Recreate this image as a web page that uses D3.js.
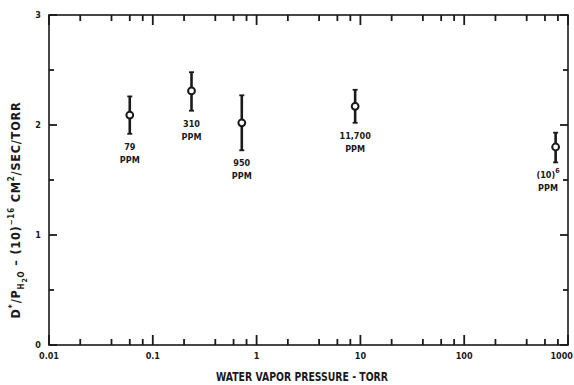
<!DOCTYPE html>
<html>
<head>
<meta charset="utf-8">
<script src="https://cdn.jsdelivr.net/npm/d3@7"></script>
<style>
  html, body { margin: 0; padding: 0; background: #fff; }
  svg text { font-family: "DejaVu Sans Condensed", "Liberation Sans Narrow", "Liberation Sans", sans-serif; font-weight: bold; fill: #1a1a1a; }
</style>
</head>
<body>
<svg id="canvas"></svg>
<script>
// ===== Data =====
const pressures = [0.06, 0.236, 0.72, 8.9, 760];        // torr
const dValues   = [2.09, 2.31, 2.02, 2.17, 1.80];
const errLow    = [1.92, 2.13, 1.77, 2.02, 1.66];
const errHigh   = [2.26, 2.48, 2.27, 2.32, 1.93];
const ppmLabels = ["79", "310", "950", "11,700", "(10)^6"];

const xMajorTicks = [0.01, 0.1, 1, 10, 100, 1000];
const xTickLabels = ["0.01", "0.1", "1", "10", "100", "1000"];
const xMinorSteps = [2, 4, 6, 8];
const yMajorTicks = [0, 1, 2, 3];
const yMinorTicks = [0.5, 1.5, 2.5];

// ===== Basis SVG =====
const W = 574, H = 385;
const margin = { top: 15, right: 6, bottom: 40, left: 49 };
const svg = d3.select("#canvas").attr("width", W).attr("height", H);
const ink = "#1a1a1a";

const x = d3.scaleLog().domain([0.01, 1000]).range([margin.left, W - margin.right]);
const y = d3.scaleLinear().domain([0, 3]).range([H - margin.bottom, margin.top]);

const bottomY = H - margin.bottom, topY = margin.top;
const leftX = margin.left, rightX = W - margin.right;

const xMinor = [];
xMajorTicks.slice(0, -1).forEach(d => xMinorSteps.forEach(m => xMinor.push(d * m)));

// frame
svg.append("rect")
  .attr("x", leftX).attr("y", topY)
  .attr("width", rightX - leftX).attr("height", bottomY - topY)
  .attr("fill", "none").attr("stroke", ink).attr("stroke-width", 1.6);

// ===== Ticks (inward, on all four sides) =====
const ticks = svg.append("g").attr("stroke", ink).attr("stroke-width", 1.8);

function xTicks(vals, len) {
  [[bottomY, -1], [topY, 1]].forEach(([y0, dir]) => {
    ticks.append("g").selectAll("line").data(vals).enter().append("line")
      .attr("x1", d => x(d)).attr("x2", d => x(d))
      .attr("y1", y0).attr("y2", y0 + dir * len);
  });
}
function yTicks(vals, len) {
  [[leftX, 1], [rightX, -1]].forEach(([x0, dir]) => {
    ticks.append("g").selectAll("line").data(vals).enter().append("line")
      .attr("y1", d => y(d)).attr("y2", d => y(d))
      .attr("x1", x0).attr("x2", x0 + dir * len);
  });
}
xTicks(xMajorTicks, 10);
xTicks(xMinor, 6);
yTicks(yMajorTicks, 8);
yTicks(yMinorTicks, 5);

// tick labels
svg.append("g").selectAll("text").data(xMajorTicks).enter().append("text")
  .attr("x", (d, i) => i === xMajorTicks.length - 1 ? W - 1 : x(d))
  .attr("y", bottomY + 14)
  .attr("text-anchor", (d, i) => i === xMajorTicks.length - 1 ? "end" : "middle")
  .attr("font-size", 9)
  .text((d, i) => xTickLabels[i]);

svg.append("g").selectAll("text").data(yMajorTicks).enter().append("text")
  .attr("x", leftX - 8).attr("y", d => y(d) + 3)
  .attr("text-anchor", "end").attr("font-size", 9)
  .text(d => d);

// ===== Points =====
const pts = pressures.map((p, i) => ({ p, v: dValues[i], lo: errLow[i], hi: errHigh[i], label: ppmLabels[i] }));

const pt = svg.selectAll(".pt").data(pts).enter().append("g").attr("class", "pt");

pt.append("line")
  .attr("x1", d => x(d.p)).attr("x2", d => x(d.p))
  .attr("y1", d => y(d.lo)).attr("y2", d => y(d.hi))
  .attr("stroke", ink).attr("stroke-width", 2.6);
["lo", "hi"].forEach(k => {
  pt.append("line")
    .attr("x1", d => x(d.p) - 2.5).attr("x2", d => x(d.p) + 2.5)
    .attr("y1", d => y(d[k])).attr("y2", d => y(d[k]))
    .attr("stroke", ink).attr("stroke-width", 1.8);
});
pt.append("circle")
  .attr("cx", d => x(d.p)).attr("cy", d => y(d.v)).attr("r", 3.4)
  .attr("fill", "#fff").attr("stroke", ink).attr("stroke-width", 2);

// labels
pt.each(function (d) {
  const g = d3.select(this);
  const lx = Math.min(x(d.p), rightX - 20);
  const t = g.append("text").attr("x", lx).attr("y", y(d.lo) + 16)
    .attr("text-anchor", "middle").attr("font-size", 9);
  const parts = d.label.split("^");
  t.append("tspan").text(parts[0]);
  if (parts[1]) t.append("tspan").attr("dy", -5).attr("font-size", 7).text(parts[1]);
  g.append("text").attr("x", lx).attr("y", y(d.lo) + 29)
    .attr("text-anchor", "middle").attr("font-size", 9).text("PPM");
});

// ===== Axis titles =====
svg.append("text")
  .attr("x", 302).attr("y", 381)
  .attr("text-anchor", "middle").attr("font-size", 12)
  .attr("textLength", 172).attr("lengthAdjust", "spacingAndGlyphs")
  .text("WATER VAPOR PRESSURE - TORR");

const yt = svg.append("text")
  .attr("transform", `translate(20,${(topY + bottomY) / 2 + 30}) rotate(-90)`)
  .attr("text-anchor", "middle").attr("font-size", 12.5)
  .attr("letter-spacing", 0.8);
yt.append("tspan").text("D");
yt.append("tspan").attr("dy", -5).attr("font-size", 9).text("*");
yt.append("tspan").attr("dy", 5).text("/P");
yt.append("tspan").attr("dy", 4).attr("font-size", 8).text("H");
yt.append("tspan").attr("dy", 3).attr("font-size", 7).text("2");
yt.append("tspan").attr("dy", -3).attr("font-size", 8).text("O");
yt.append("tspan").attr("dy", -4).text(" \u2013 (10)");
yt.append("tspan").attr("dy", -6).attr("font-size", 8).text("\u221216");
yt.append("tspan").attr("dy", 6).text(" CM");
yt.append("tspan").attr("dy", -6).attr("font-size", 8).text("2");
yt.append("tspan").attr("dy", 6).text("/SEC/TORR");
</script>
</body>
</html>
